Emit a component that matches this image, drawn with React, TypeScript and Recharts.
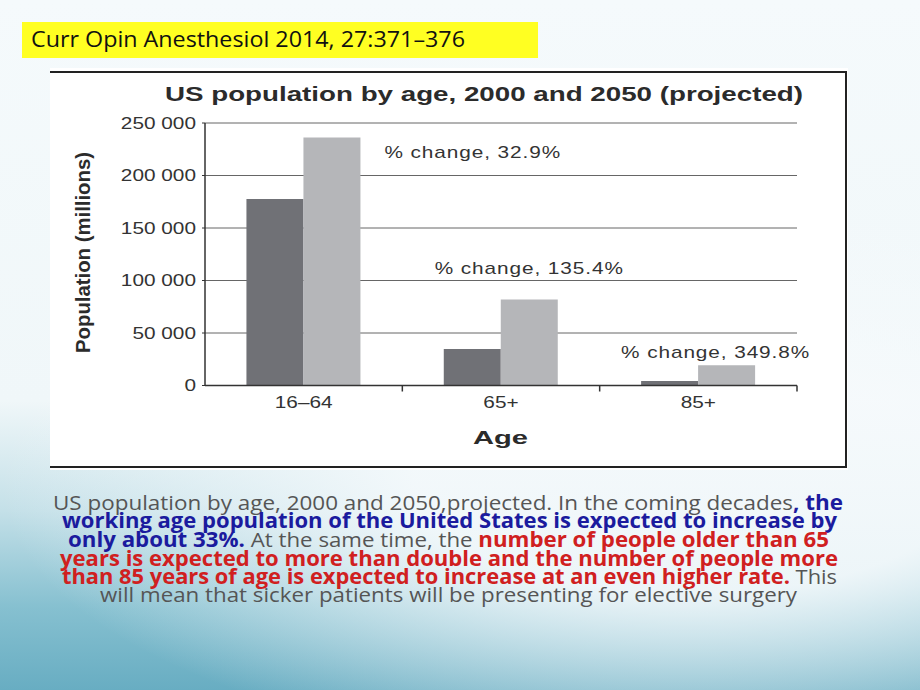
import React from "react";
import { BarChart, Bar, XAxis, YAxis, CartesianGrid, LabelList } from "recharts";

// values (thousands of people)
const ageGroups = ["16–64", "65+", "85+"];
const pop2000 = [177700, 34800, 4300];
const pop2050 = [236200, 81900, 19400];
const pctChange = ["32.9%", "135.4%", "349.8%"];
const yTicks = [0, 50000, 100000, 150000, 200000, 250000];

const data = ageGroups.map((age, i) => ({
  age,
  y2000: pop2000[i],
  y2050: pop2050[i],
  pct: pctChange[i],
}));

// layout of the chart panel (page px)
const PANEL = { left: 50, top: 68, width: 798, height: 402 };
const Y_W = 100;
const X_H = 40;
const MARGIN = { top: 55, right: 51, bottom: 44.5, left: 55 };
const PLOT_W = PANEL.width - MARGIN.left - Y_W - MARGIN.right;
const AXIS_Y = PANEL.height - MARGIN.bottom - X_H;
const STRETCH = 1.3;
const INK = "#333";
const CHART_FONT = "'Liberation Sans', Arial, sans-serif";
const SLIDE_FONT = "'Open Sans', 'Noto Sans', sans-serif";

// where each "% change" note sits relative to its 2050 bar
const notePlacement = [
  { anchor: "start", dx: 24, dy: 15 },
  { anchor: "middle", dx: 0, dy: -31 },
  { anchor: "middle", dx: -11, dy: -13 },
];

const COLORS = { gray: "#555", blue: "#1b1b9e", red: "#d0201f" };

const captionLines = [
  { from: 53, to: 843, base: 510, parts: [["US population by age, 2000 and 2050,projected. In the coming decades", "gray"], [", the", "blue"]] },
  { from: 62, to: 837, base: 528, parts: [["working age population of the United States is expected to increase by", "blue"]] },
  { from: 68, to: 829, base: 547, parts: [["only about 33%.", "blue"], [" At the same time, the ", "gray"], ["number of people older than 65", "red"]] },
  { from: 60, to: 838, base: 566, parts: [["years is expected to more than double and the number of people more", "red"]] },
  { from: 62, to: 837, base: 584, parts: [["than 85 years of age is expected to increase at an even higher rate.", "red"], [" This", "gray"]] },
  { from: 100, to: 797, base: 602, parts: [["will mean that sicker patients will be presenting for elective surgery", "gray"]] },
];

const fmt = (v: number) => v.toLocaleString("en-US").replace(/,/g, " ");

function YTick(props: any) {
  const { x, y, payload } = props;
  return (
    <g transform={`translate(${x},${y}) scale(${STRETCH},1)`}>
      <text textAnchor="end" dy="0.36em" fontSize={16} fill={INK} fontFamily={CHART_FONT}>
        {fmt(payload.value)}
      </text>
    </g>
  );
}

function XTick(props: any) {
  const { x, payload } = props;
  const band = PLOT_W / ageGroups.length;
  const edge = x + band / 2;
  return (
    <g>
      <line x1={edge} x2={edge} y1={AXIS_Y} y2={AXIS_Y + 6} stroke={INK} strokeWidth={1.5} />
      <g transform={`translate(${x},${AXIS_Y + 22.5}) scale(${STRETCH},1)`}>
        <text textAnchor="middle" fontSize={16} fill={INK} fontFamily={CHART_FONT}>
          {payload.value}
        </text>
      </g>
    </g>
  );
}

function ChangeNote(props: any) {
  const { index } = props;
  const x = Number(props.x);
  const y = Number(props.y);
  const w = Number(props.width);
  const p = notePlacement[index];
  const bx = p.anchor === "start" ? x + w + p.dx : x + w / 2 + p.dx;
  const by = y + p.dy;
  return (
    <g transform={`translate(${bx},${by}) scale(${STRETCH},1)`}>
      <text
        textAnchor={p.anchor as any}
        dy="0.36em"
        fontSize={16}
        letterSpacing={0.7}
        fill={INK}
        fontFamily={CHART_FONT}
      >
        % change, {data[index].pct}
      </text>
    </g>
  );
}

export default function App() {
  return (
    <div
      style={{
        position: "fixed",
        left: 0,
        top: 0,
        width: 920,
        height: 690,
        overflow: "hidden",
        background:
          "radial-gradient(ellipse 75% 40% at 75% 70%, rgba(246,250,252,0.9) 40%, rgba(246,250,252,0) 100%), linear-gradient(180deg, #f5fafc 0%, #f0f7f9 58%, #c4e0e8 74%, #86c0d0 88%, #68adc2 100%)",
      }}
    >
      <div style={{ position: "absolute", left: 22, top: 22, width: 516, height: 36, background: "#ffff22" }} />

      <div
        style={{
          position: "absolute",
          left: PANEL.left,
          top: PANEL.top,
          width: PANEL.width,
          height: PANEL.height,
          background: "#fff",
        }}
      >
        <div
          style={{
            position: "absolute",
            left: 0,
            top: 3,
            width: 795,
            height: 393,
            borderTop: "2.5px solid #222",
            borderRight: "2.5px solid #222",
            borderBottom: "2.5px solid #222",
          }}
        />
        <div style={{ position: "absolute", left: 0, top: 0 }}>
          <BarChart
            width={PANEL.width}
            height={PANEL.height}
            data={data}
            margin={MARGIN}
            barCategoryGap="21%"
            barGap={0}
          >
            <CartesianGrid vertical={false} stroke="#666" strokeWidth={1} />
            <XAxis
              dataKey="age"
              height={X_H}
              tickLine={false}
              axisLine={{ stroke: INK, strokeWidth: 1.5 }}
              tick={(p: any) => <XTick {...p} />}
              interval={0}
            />
            <YAxis
              type="number"
              domain={[0, 250000]}
              ticks={yTicks}
              width={Y_W}
              tickSize={3}
              tickMargin={6}
              tickLine={{ stroke: INK }}
              axisLine={{ stroke: INK, strokeWidth: 1.5 }}
              tick={(p: any) => <YTick {...p} />}
              interval={0}
            />
            <Bar dataKey="y2000" fill="#707176" isAnimationActive={false} />
            <Bar dataKey="y2050" fill="#b5b6b9" isAnimationActive={false}>
              <LabelList dataKey="y2050" content={(p: any) => <ChangeNote {...p} />} />
            </Bar>
          </BarChart>
        </div>
      </div>

      <svg
        width={920}
        height={690}
        style={{ position: "absolute", left: 0, top: 0, pointerEvents: "none" }}
      >
        <text x={31} y={47} fontSize={22} fill="#111" fontFamily={SLIDE_FONT} textLength={434} lengthAdjust="spacingAndGlyphs">
          Curr Opin Anesthesiol 2014, 27:371–376
        </text>
        <text x={165} y={101} fontSize={21} fontWeight="bold" fill="#2b2b2b" fontFamily={CHART_FONT} textLength={638} lengthAdjust="spacingAndGlyphs">
          US population by age, 2000 and 2050 (projected)
        </text>
        <g transform="translate(90,252.5) rotate(-90)">
          <text textAnchor="middle" fontSize={20} fontWeight="bold" fill="#2b2b2b" fontFamily={CHART_FONT} textLength={201} lengthAdjust="spacingAndGlyphs">
            Population (millions)
          </text>
        </g>
        <text x={473} y={444} fontSize={19} fontWeight="bold" fill="#2b2b2b" fontFamily={CHART_FONT} textLength={55} lengthAdjust="spacingAndGlyphs">
          Age
        </text>
        {captionLines.map((ln, i) => (
          <text
            key={i}
            x={ln.from}
            y={ln.base}
            fontSize={20.5}
            fontFamily={SLIDE_FONT}
            textLength={ln.to - ln.from}
            lengthAdjust="spacingAndGlyphs"
            style={{ whiteSpace: "pre" }}
          >
            {ln.parts.map(([t, c], j) => (
              <tspan key={j} fill={(COLORS as any)[c]} fontWeight={c === "gray" ? 400 : 700}>
                {t}
              </tspan>
            ))}
          </text>
        ))}
      </svg>
    </div>
  );
}
